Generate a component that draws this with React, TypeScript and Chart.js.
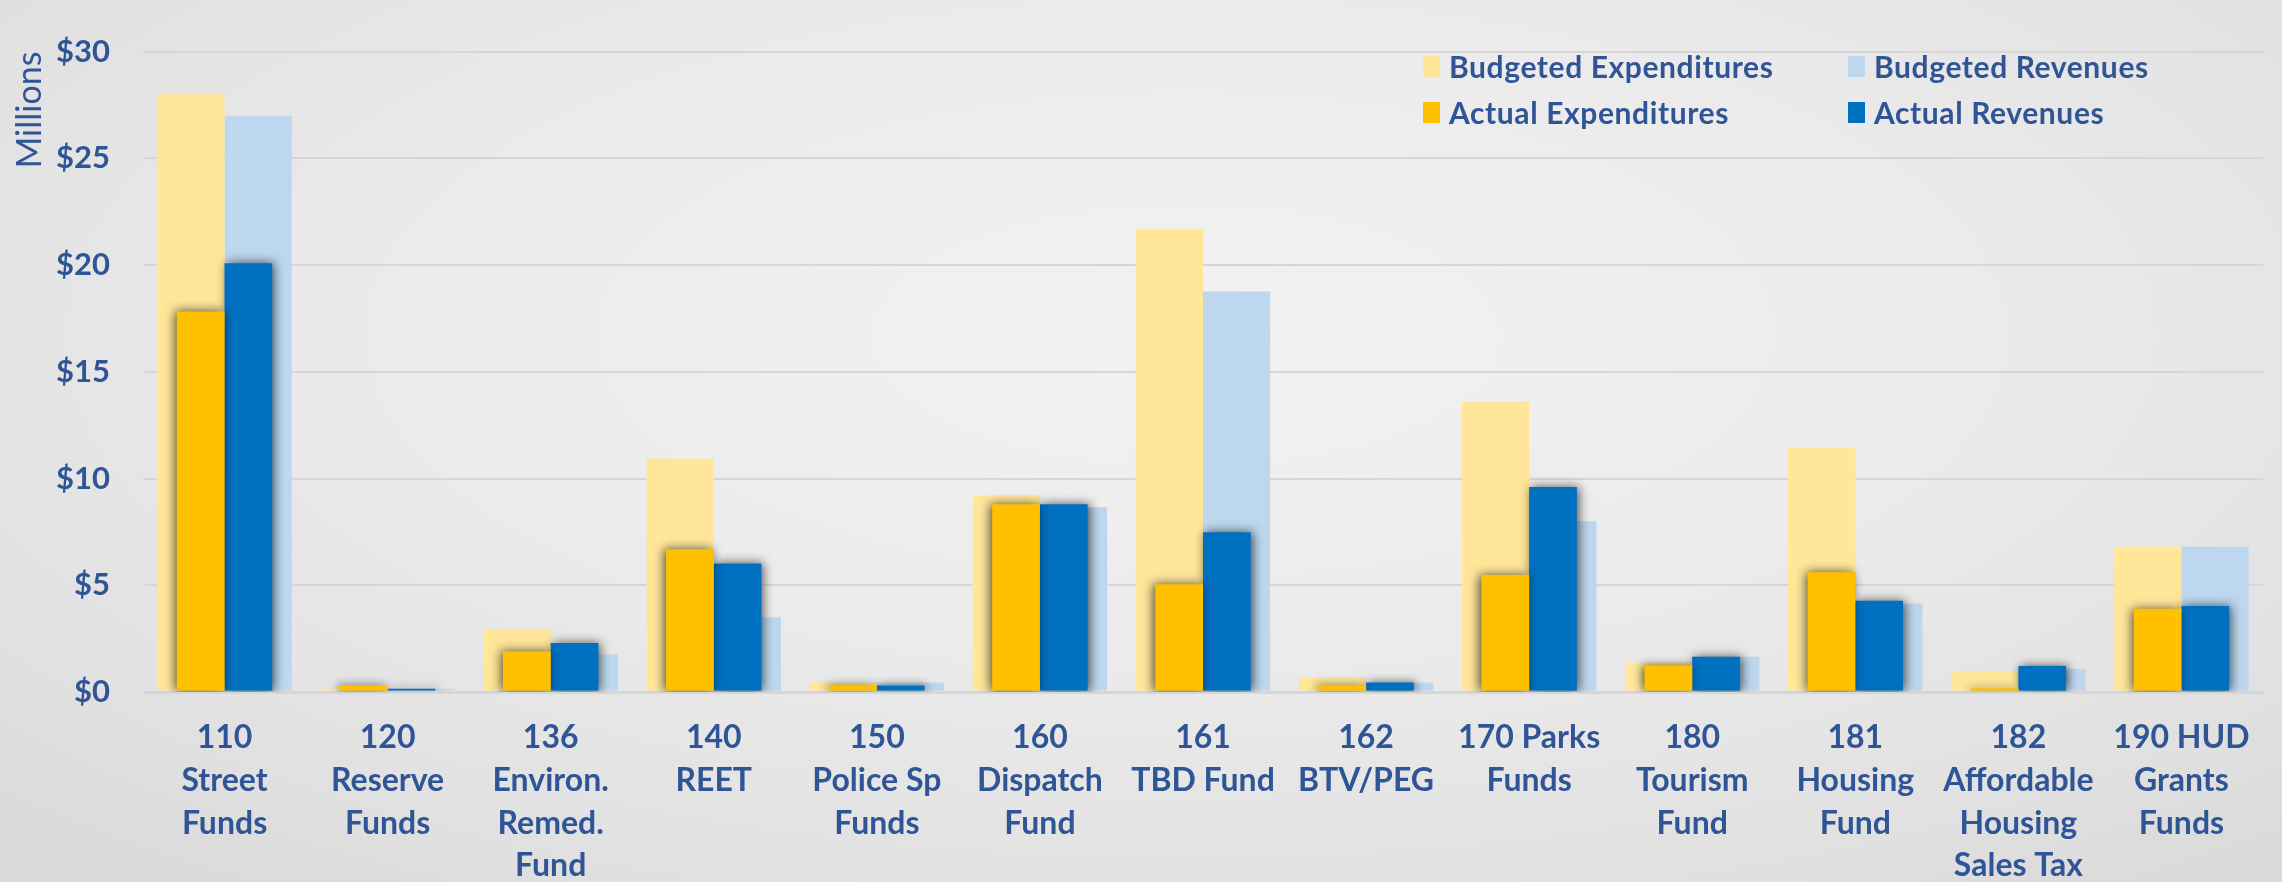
import React, { useEffect, useRef } from "react";
import { Chart, registerables } from "chart.js";

Chart.register(...registerables);

const categories: string[][] = [
  ["110", "Street", "Funds"],
  ["120", "Reserve", "Funds"],
  ["136", "Environ.", "Remed.", "Fund"],
  ["140", "REET"],
  ["150", "Police Sp", "Funds"],
  ["160", "Dispatch", "Fund"],
  ["161", "TBD Fund"],
  ["162", "BTV/PEG"],
  ["170 Parks", "Funds"],
  ["180", "Tourism", "Fund"],
  ["181", "Housing", "Fund"],
  ["182", "Affordable", "Housing", "Sales Tax"],
  ["190 HUD", "Grants", "Funds"],
];

const budgetedExpenditures = [28.0, 0.15, 2.95, 10.93, 0.45, 9.2, 21.7, 0.7, 13.6, 1.38, 11.45, 0.98, 6.8];
const budgetedRevenues = [27.0, 0.15, 1.76, 3.5, 0.45, 8.66, 18.76, 0.45, 8.0, 1.65, 4.15, 1.09, 6.8];
const actualExpenditures = [17.83, 0.3, 1.9, 6.69, 0.31, 8.8, 5.05, 0.3, 5.48, 1.24, 5.61, 0.18, 3.9];
const actualRevenues = [20.09, 0.15, 2.3, 6.02, 0.31, 8.8, 7.48, 0.45, 9.6, 1.65, 4.28, 1.22, 4.03];

const yTicks = [0, 5, 10, 15, 20, 25, 30];

const seriesNames = ["Budgeted Expenditures", "Budgeted Revenues", "Actual Expenditures", "Actual Revenues"];
const seriesColors = ["#FFE699", "#BDD7EE", "#FFC000", "#0070C0"];

const TEXT = "#2F5597";

const shadowPlugin = {
  id: "barShadow",
  beforeDatasetDraw(chart: any, args: any) {
    const ds = chart.data.datasets[args.index] as any;
    if (ds._shadow) {
      const ctx = chart.ctx;
      ctx.save();
      ctx.shadowColor = "rgba(0,0,0,0.65)";
      ctx.shadowBlur = 10;
      ctx.shadowOffsetX = ds._shadowDx || 0;
      ctx.shadowOffsetY = 0;
    }
  },
  afterDatasetDraw(chart: any, args: any) {
    const ds = chart.data.datasets[args.index] as any;
    if (ds._shadow) chart.ctx.restore();
  },
};

export default function App() {
  const ref = useRef<HTMLCanvasElement | null>(null);

  useEffect(() => {
    if (!ref.current) return;
    const chart = new Chart(ref.current, {
      type: "bar",
      data: {
        labels: categories,
        datasets: [
          {
            label: seriesNames[0],
            data: budgetedExpenditures,
            backgroundColor: seriesColors[0],
            stack: "exp",
            categoryPercentage: 0.824,
            barPercentage: 1,
            order: 2,
          },
          {
            label: seriesNames[1],
            data: budgetedRevenues,
            backgroundColor: seriesColors[1],
            stack: "rev",
            categoryPercentage: 0.824,
            barPercentage: 1,
            order: 3,
          },
          {
            label: seriesNames[2],
            data: actualExpenditures,
            backgroundColor: seriesColors[2],
            stack: "exp",
            categoryPercentage: 0.585,
            barPercentage: 1,
            order: 0,
            _shadow: true,
            _shadowDx: -2,
          } as any,
          {
            label: seriesNames[3],
            data: actualRevenues,
            backgroundColor: seriesColors[3],
            stack: "rev",
            categoryPercentage: 0.585,
            barPercentage: 1,
            order: 1,
            _shadow: true,
            _shadowDx: 2,
          } as any,
        ],
      },
      options: {
        animation: false,
        responsive: false,
        maintainAspectRatio: false,
        layout: { padding: { top: 23, right: 19, left: 0, bottom: 0 } },
        plugins: {
          legend: { display: false },
          tooltip: { enabled: false },
        },
        scales: {
          x: {
            type: "category",
            offset: true,
            grid: { display: false, drawTicks: false },
            border: { display: false },
            ticks: {
              color: TEXT,
              font: { family: "Lato", weight: "bold", size: 32, lineHeight: 1.34 },
              padding: 24,
              maxRotation: 0,
              minRotation: 0,
              autoSkip: false,
            },
            afterFit: (s: any) => {
              s.height = 190;
            },
          },
          y: {
            min: 0,
            max: 30,
            stacked: false,
            afterBuildTicks: (s: any) => {
              s.ticks = yTicks.map((v) => ({ value: v }));
            },
            grid: {
              color: "#d6d6d6",
              lineWidth: (c: any) => (c.tick && c.tick.value === 0 ? 3 : 2),
              drawTicks: false,
            },
            border: { display: false },
            ticks: {
              color: TEXT,
              font: { family: "Lato", weight: "bold", size: 31 },
              padding: 33,
              callback: (v: any) => "$" + v,
            },
            title: {
              display: true,
              text: "Millions",
              align: "end",
              color: TEXT,
              font: { family: "Lato", weight: "normal", size: 34 },
              padding: { top: 10, bottom: 0 },
            },
            afterFit: (s: any) => {
              s.width = 143;
            },
          },
        },
      },
      plugins: [shadowPlugin],
    });
    return () => chart.destroy();
  }, []);

  const legendPos = [
    { left: 1423, top: 66 },
    { left: 1848, top: 66 },
    { left: 1423, top: 112 },
    { left: 1848, top: 112 },
  ];

  return (
    <div
      style={{
        position: "fixed",
        left: 0,
        top: 0,
        width: 2282,
        height: 882,
        overflow: "hidden",
        background:
          "radial-gradient(ellipse 75% 80% at 52% 38%, #f2f2f2 0%, #ebebeb 45%, #e1e1e1 80%, #d9d9d9 100%)",
      }}
    >
      <canvas ref={ref} width={2282} height={882} style={{ position: "absolute", left: 0, top: 0 }} />
      {seriesNames.map((name, i) => (
        <div
          key={name}
          style={{
            position: "absolute",
            left: legendPos[i].left,
            top: legendPos[i].top - 18,
            height: 36,
            display: "flex",
            alignItems: "center",
            fontFamily: "Lato",
            fontWeight: 700,
            fontSize: 30,
            letterSpacing: "0.6px",
            color: TEXT,
            whiteSpace: "nowrap",
          }}
        >
          <span
            style={{
              display: "inline-block",
              width: 17,
              height: 21,
              background: seriesColors[i],
              marginRight: 9,
            }}
          />
          {name}
        </div>
      ))}
    </div>
  );
}
